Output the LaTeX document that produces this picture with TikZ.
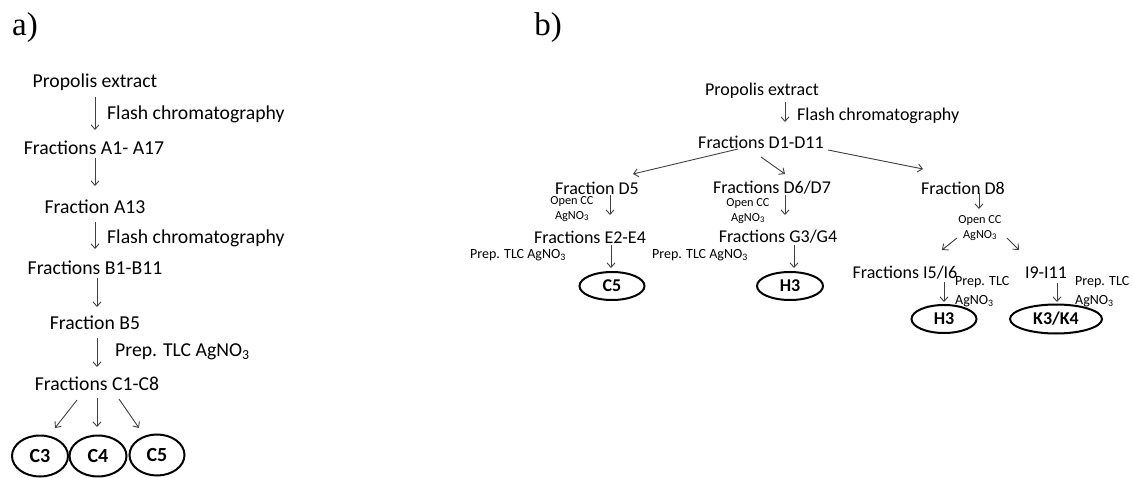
\documentclass[tikz,border=0pt]{standalone}
\usepackage{fontspec}
\setmainfont{Carlito}
\newfontfamily\tnr{Liberation Serif}
\usetikzlibrary{arrows.meta,calc,shapes.geometric}
\tikzset{
  lbl/.style={inner sep=0pt, font=\tnr\fontsize{33}{36}\selectfont},
  ta/.style={inner sep=0pt, font=\fontsize{19.7}{23}\selectfont},
  tb/.style={inner sep=0pt, font=\fontsize{18}{21}\selectfont},
  tsm/.style={inner sep=0pt, align=center, font=\fontsize{12.3}{14.5}\selectfont},
  ttlc/.style={inner sep=0pt, font=\fontsize{14}{19}\selectfont},
  arr/.style={draw=black!75, line width=0.9pt, -{Straight Barb[length=4.5pt,width=8pt]}},
  ell/.style={ellipse, draw=black, line width=2pt, inner sep=0pt, font=\bfseries\fontsize{20}{24}\selectfont},
  ellb/.style={ellipse, draw=black, line width=2pt, inner sep=0pt, font=\bfseries\fontsize{18}{22}\selectfont},
}
\begin{document}
\begin{tikzpicture}[x=1pt,y=-1pt]
\useasboundingbox (0,0) rectangle (1132,478);
% ---------- panel a ----------
\node[lbl] (la) at (25,28) {a)};
\node[ta] (pe) at (95,82) {Propolis extract};
\node[ta,anchor=west] (fl1) at (107,114) {Flash chromatography};
\node[ta] (fa) at (94,148) {Fractions A1- A17};
\node[ta] (a13) at (95,207) {Fraction A13};
\node[ta,anchor=west] (fl2) at (107,238) {Flash chromatography};
\node[ta] (fb) at (95,268) {Fractions B1-B11};
\node[ta] (b5) at (95,323) {Fraction B5};
\node[ta,anchor=west] (tlca) at (115,352) {Prep. TLC AgNO\textsubscript{3}};
\node[ta] (fc) at (97,384) {Fractions C1-C8};
\node[ell, minimum width=56pt, minimum height=41pt] (c3) at (40,456) {C3};
\node[ell, minimum width=57pt, minimum height=41pt] (c4) at (98,456) {C4};
\node[ell, minimum width=55pt, minimum height=41pt] (c5) at (157,455) {C5};
\draw[arr] ($(pe)+(0,15)$) -- ($(fa)+(1,-18)$);
\draw[arr] ($(fa)+(1,10)$) -- ($(a13)+(0,-21)$);
\draw[arr] ($(a13)+(0,15)$) -- ($(fb)+(0,-19)$);
\draw[arr] ($(fb)+(2,10)$) -- ($(b5)+(2,-16)$);
\draw[arr] ($(b5)+(2,15)$) -- ($(fc)+(0,-17)$);
\draw[arr] ($(fc)+(-20,16)$) -- ($(c3)+(15,-28)$);
\draw[arr] ($(fc)+(0,14)$) -- ($(c4)+(-1,-29)$);
\draw[arr] ($(fc)+(22,15)$) -- ($(c5)+(-18,-27)$);
% ---------- panel b ----------
\node[lbl] (lb) at (548,28) {b)};
\node[tb] (pb) at (762,91) {Propolis extract};
\node[tb,anchor=west] (flb) at (797,116) {Flash chromatography};
\node[tb] (d1) at (761,142) {Fractions D1-D11};
\node[tb] (d5) at (597,188) {Fraction D5};
\node[tsm] (oc1) at (572,209) {Open CC\\AgNO\textsubscript{3}};
\node[tb] (e2) at (590,237) {Fractions E2-E4};
\node[ttlc] (tlc1) at (518,255) {Prep. TLC AgNO\textsubscript{3}};
\node[ellb, minimum width=65pt, minimum height=28pt] (c5b) at (612,286) {C5};
\node[tb] (d67) at (772,188) {Fractions D6/D7};
\node[tsm] (oc2) at (748,211) {Open CC\\AgNO\textsubscript{3}};
\node[tb] (g34) at (778,237) {Fractions G3/G4};
\node[ttlc] (tlc2) at (700,255) {Prep. TLC AgNO\textsubscript{3}};
\node[ellb, minimum width=66pt, minimum height=28pt] (h3a) at (790,286) {H3};
\node[tb] (d8) at (963,188) {Fraction D8};
\node[tsm] (oc3) at (980,228) {Open CC\\AgNO\textsubscript{3}};
\node[tb] (i56) at (905,273) {Fractions I5/I6};
\node[ttlc, align=left, anchor=west] (tlc3) at (955,292) {Prep. TLC\\AgNO\textsubscript{3}};
\node[ellb, minimum width=65pt, minimum height=28pt] (h3b) at (944,319) {H3};
\node[tb] (i911) at (1046,273) {I9-I11};
\node[ttlc, align=left, anchor=west] (tlc4) at (1075,292) {Prep. TLC\\AgNO\textsubscript{3}};
\node[ellb, minimum width=92pt, minimum height=29pt] (k34) at (1056,319) {K3/K4};
\draw[arr] ($(pb)+(23,11)$) -- ($(d1)+(24,-20)$);
\draw[arr] ($(d1)+(-23,7)$) -- ($(d5)+(36,-14)$);
\draw[arr] ($(d1)+(0,15)$) -- ($(d67)+(13,-14)$);
\draw[arr] ($(d1)+(67,8)$) -- ($(d8)+(-40,-19)$);
\draw[arr] ($(d5)+(13,7)$) -- ($(e2)+(20,-22)$);
\draw[arr] ($(e2)+(21,8)$) -- ($(c5b)+(-1,-18)$);
\draw[arr] ($(d67)+(13,7)$) -- ($(g34)+(7,-22)$);
\draw[arr] ($(g34)+(16,8)$) -- ($(h3a)+(4,-18)$);
\draw[arr] ($(d8)+(16,5)$) -- ($(oc3)+(-1,-19)$);
\draw[arr] ($(oc3)+(-23,10)$) -- ($(i56)+(37,-23)$);
\draw[arr] ($(oc3)+(27,10)$) -- ($(i911)+(-27,-23)$);
\draw[arr] ($(i56)+(39,9)$) -- ($(h3b)+(0,-17)$);
\draw[arr] ($(i911)+(11,10)$) -- ($(k34)+(1,-17)$);
\end{tikzpicture}
\end{document}
